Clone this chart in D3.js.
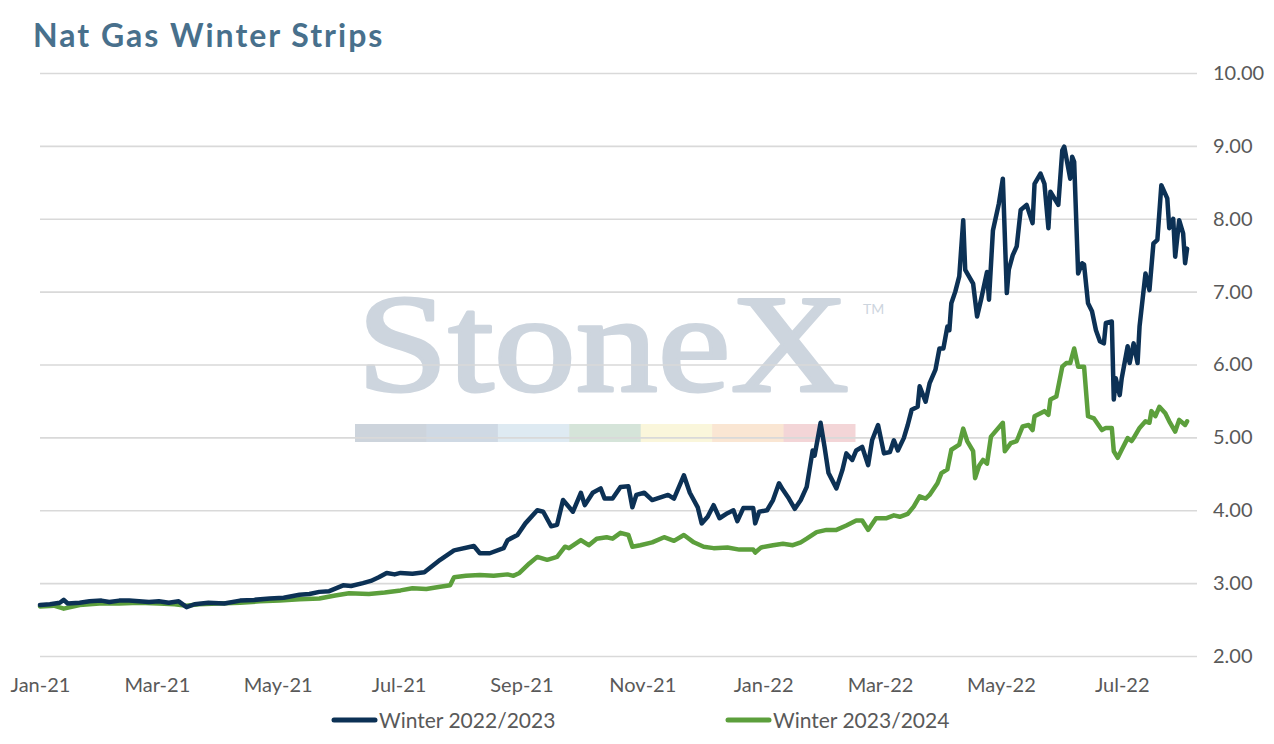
<!DOCTYPE html>
<html>
<head>
<meta charset="utf-8">
<script src="https://cdn.jsdelivr.net/npm/d3@7"></script>
<style>
  body { margin: 0; background: #fff; }
  svg { display: block; font-family: Lato, "Open Sans", sans-serif; }
</style>
</head>
<body>
<div id="chart"></div>
<script>
// Winter 2022/2023 strip
const navyDates = [
  "2021-01-01","2021-01-06","2021-01-11","2021-01-13","2021-01-15","2021-01-21","2021-01-26","2021-02-01",
  "2021-02-05","2021-02-10","2021-02-15","2021-02-20","2021-02-25","2021-03-02","2021-03-07","2021-03-12",
  "2021-03-16","2021-03-20","2021-03-27","2021-04-04","2021-04-12","2021-04-19","2021-04-27","2021-05-04",
  "2021-05-12","2021-05-17","2021-05-22","2021-05-27","2021-06-03","2021-06-07","2021-06-13","2021-06-17",
  "2021-06-21","2021-06-25","2021-06-29","2021-07-02","2021-07-08","2021-07-14","2021-07-22","2021-07-29",
  "2021-08-08","2021-08-11","2021-08-16","2021-08-23","2021-08-25","2021-08-30","2021-09-03","2021-09-09",
  "2021-09-12","2021-09-16","2021-09-19","2021-09-22","2021-09-27","2021-10-01","2021-10-03","2021-10-07",
  "2021-10-11","2021-10-13","2021-10-17","2021-10-21","2021-10-25","2021-10-27","2021-10-29","2021-11-02",
  "2021-11-06","2021-11-14","2021-11-17","2021-11-22","2021-11-25","2021-11-29","2021-12-01","2021-12-04",
  "2021-12-07","2021-12-10","2021-12-14","2021-12-17","2021-12-19","2021-12-22","2021-12-27","2021-12-28",
  "2021-12-30","2022-01-03","2022-01-06","2022-01-09","2022-01-11","2022-01-14","2022-01-17","2022-01-20",
  "2022-01-23","2022-01-26","2022-01-27","2022-01-30","2022-02-01","2022-02-03","2022-02-07","2022-02-10",
  "2022-02-12","2022-02-15","2022-02-17","2022-02-20","2022-02-23","2022-02-25","2022-02-28","2022-03-03",
  "2022-03-06","2022-03-08","2022-03-10","2022-03-13","2022-03-15","2022-03-17","2022-03-20","2022-03-21",
  "2022-03-24","2022-03-26","2022-03-29","2022-03-31","2022-04-02","2022-04-04","2022-04-05","2022-04-06",
  "2022-04-08","2022-04-10","2022-04-12","2022-04-13","2022-04-17","2022-04-19","2022-04-21","2022-04-24",
  "2022-04-25","2022-04-27","2022-04-30","2022-05-02","2022-05-04","2022-05-05","2022-05-07","2022-05-09",
  "2022-05-11","2022-05-14","2022-05-17","2022-05-18","2022-05-21","2022-05-23","2022-05-25","2022-05-26",
  "2022-05-30","2022-06-01","2022-06-02","2022-06-05","2022-06-06","2022-06-07","2022-06-09","2022-06-11",
  "2022-06-12","2022-06-14","2022-06-16","2022-06-18","2022-06-20","2022-06-22","2022-06-23","2022-06-26",
  "2022-06-27","2022-06-28","2022-06-30","2022-07-01","2022-07-04","2022-07-05","2022-07-07","2022-07-09",
  "2022-07-10","2022-07-13","2022-07-15","2022-07-17","2022-07-19","2022-07-21","2022-07-24","2022-07-25",
  "2022-07-27","2022-07-28","2022-07-30","2022-08-01","2022-08-02","2022-08-03"
];
const navyValues = [
  2.70,2.71,2.73,2.77,2.72,2.73,2.75,2.76,
  2.74,2.76,2.76,2.75,2.74,2.75,2.73,2.75,
  2.67,2.71,2.73,2.72,2.76,2.77,2.79,2.80,
  2.84,2.85,2.88,2.89,2.97,2.96,3.00,3.03,
  3.08,3.14,3.12,3.14,3.13,3.15,3.32,3.45,
  3.51,3.41,3.41,3.48,3.59,3.66,3.82,4.00,
  3.98,3.78,3.80,4.14,3.98,4.24,4.07,4.24,
  4.30,4.16,4.16,4.32,4.33,4.04,4.21,4.24,
  4.14,4.21,4.16,4.48,4.24,4.04,3.82,3.91,
  4.07,3.89,3.96,4.00,3.85,4.03,4.03,3.82,
  3.98,4.00,4.14,4.37,4.28,4.16,4.02,4.14,
  4.32,4.82,4.75,5.20,4.87,4.51,4.30,4.55,
  4.78,4.69,4.82,4.87,4.62,4.96,5.17,4.78,
  4.80,4.96,4.82,4.99,5.17,5.38,5.42,5.70,
  5.49,5.74,5.93,6.22,6.22,6.52,6.47,6.84,
  7.00,7.21,7.98,7.30,7.11,6.66,6.89,7.27,
  6.89,7.84,8.21,8.55,6.98,7.30,7.50,7.62,
  8.12,8.19,7.94,8.48,8.62,8.48,7.87,8.37,
  8.19,8.94,8.99,8.55,8.85,8.78,7.25,7.39,
  7.37,6.84,6.73,6.47,6.32,6.29,6.57,6.59,
  5.52,5.81,5.58,5.81,6.25,6.02,6.29,6.02,
  6.52,7.25,7.02,7.66,7.71,8.46,8.28,7.87,
  8.00,7.48,7.98,7.80,7.39,7.59
];

// Winter 2023/2024 strip
const greenDates = [
  "2021-01-01","2021-01-08","2021-01-13","2021-01-21","2021-01-31","2021-02-10","2021-02-20","2021-03-02",
  "2021-03-10","2021-03-16","2021-03-22","2021-04-01","2021-04-12","2021-04-22","2021-05-02","2021-05-12",
  "2021-05-22","2021-05-30","2021-06-06","2021-06-16","2021-06-24","2021-07-02","2021-07-08","2021-07-15",
  "2021-07-22","2021-07-27","2021-07-29","2021-08-04","2021-08-11","2021-08-18","2021-08-25","2021-08-28",
  "2021-08-31","2021-09-05","2021-09-09","2021-09-14","2021-09-19","2021-09-23","2021-09-25","2021-10-01",
  "2021-10-05","2021-10-09","2021-10-14","2021-10-17","2021-10-21","2021-10-25","2021-10-27","2021-10-31",
  "2021-11-06","2021-11-12","2021-11-17","2021-11-22","2021-11-27","2021-12-02","2021-12-07","2021-12-14",
  "2021-12-20","2021-12-27","2021-12-28","2021-12-31","2022-01-06","2022-01-11","2022-01-16","2022-01-20",
  "2022-01-23","2022-01-28","2022-02-02","2022-02-07","2022-02-12","2022-02-17","2022-02-20","2022-02-23",
  "2022-02-27","2022-03-04","2022-03-08","2022-03-11","2022-03-15","2022-03-18","2022-03-21","2022-03-24",
  "2022-03-26","2022-03-30","2022-04-01","2022-04-04","2022-04-06","2022-04-10","2022-04-12","2022-04-14",
  "2022-04-17","2022-04-18","2022-04-20","2022-04-22","2022-04-24","2022-04-26","2022-05-02","2022-05-03",
  "2022-05-06","2022-05-09","2022-05-12","2022-05-15","2022-05-17","2022-05-18","2022-05-23","2022-05-25",
  "2022-05-26","2022-05-29","2022-06-01","2022-06-03","2022-06-05","2022-06-07","2022-06-09","2022-06-12",
  "2022-06-14","2022-06-17","2022-06-21","2022-06-23","2022-06-26","2022-06-27","2022-06-29","2022-07-01",
  "2022-07-04","2022-07-06","2022-07-07","2022-07-10","2022-07-13","2022-07-15","2022-07-16","2022-07-18",
  "2022-07-20","2022-07-23","2022-07-25","2022-07-28","2022-07-30","2022-08-02","2022-08-03"
];
const greenValues = [
  2.68,2.69,2.65,2.70,2.72,2.72,2.73,2.72,
  2.71,2.69,2.71,2.72,2.73,2.75,2.76,2.78,
  2.79,2.83,2.86,2.85,2.87,2.90,2.93,2.92,
  2.95,2.97,3.08,3.10,3.11,3.10,3.12,3.10,
  3.14,3.27,3.36,3.32,3.36,3.50,3.48,3.59,
  3.52,3.61,3.63,3.61,3.69,3.66,3.50,3.52,
  3.56,3.63,3.58,3.66,3.56,3.50,3.48,3.49,
  3.46,3.46,3.42,3.49,3.52,3.54,3.52,3.56,
  3.61,3.70,3.73,3.73,3.79,3.86,3.86,3.73,
  3.89,3.89,3.93,3.91,3.95,4.05,4.19,4.16,
  4.21,4.37,4.51,4.56,4.83,4.90,5.12,4.95,
  4.81,4.44,4.61,4.69,4.64,5.01,5.20,4.81,
  4.92,4.95,5.15,5.17,5.10,5.29,5.36,5.31,
  5.52,5.56,5.97,6.02,6.02,6.22,5.97,5.97,
  5.29,5.26,5.10,5.13,5.13,4.81,4.72,4.83,
  4.99,4.95,4.99,5.13,5.22,5.20,5.36,5.29,
  5.42,5.33,5.22,5.08,5.24,5.17,5.22
];

const seriesNames = ["Winter 2022/2023", "Winter 2023/2024"];
const seriesColors = ["#0c3155", "#5c9f3c"];
const yTicks = [2, 3, 4, 5, 6, 7, 8, 9, 10];
const xTickDates = ["2021-01-01","2021-03-01","2021-05-01","2021-07-01","2021-09-01","2021-11-01",
                    "2022-01-01","2022-03-01","2022-05-01","2022-07-01"];
const xDomain = ["2021-01-01", "2022-08-08"];
const watermarkColors = ["#cdd4dc","#cfd9e4","#deeaf2","#d5e4d9","#faf6db","#fae6d3","#f3d5d7"];

const parse = d3.timeParse("%Y-%m-%d");

function build() {
  const width = 1274, height = 744;
  const plot = { left: 40, right: 1197, top: 73, bottom: 656 };

  const svg = d3.select("#chart").append("svg")
    .attr("width", width).attr("height", height);

  const x = d3.scaleTime()
    .domain(xDomain.map(parse))
    .range([plot.left, plot.right]);

  const y = d3.scaleLinear()
    .domain([2, 10])
    .range([plot.bottom, plot.top]);

  // title
  svg.append("text")
    .attr("x", 33).attr("y", 47)
    .attr("font-size", 32).attr("font-weight", 700)
    .attr("letter-spacing", 2)
    .attr("fill", "#48708c")
    .text("Nat Gas Winter Strips");

  // watermark behind everything
  const wm = svg.append("g").attr("class", "watermark");
  wm.append("text")
    .attr("x", 357).attr("y", 391)
    .attr("font-family", "'Liberation Serif', 'DejaVu Serif', serif")
    .attr("font-size", 140)
    .attr("textLength", 492).attr("lengthAdjust", "spacingAndGlyphs")
    .attr("fill", "#cdd5de")
    .attr("stroke", "#cdd5de").attr("stroke-width", 3)
    .attr("stroke-linejoin", "round")
    .text("StoneX");
  wm.append("text")
    .attr("x", 863).attr("y", 314)
    .attr("font-size", 14)
    .attr("fill", "#cdd5de")
    .text("TM");
  const band = d3.scaleBand().domain(d3.range(watermarkColors.length)).range([355, 855]);
  wm.selectAll("rect")
    .data(watermarkColors)
    .join("rect")
    .attr("x", (d, i) => band(i)).attr("y", 424)
    .attr("width", band.bandwidth() + 0.5).attr("height", 18)
    .attr("fill", (d) => d);

  // gridlines + right axis
  const yAxis = svg.append("g")
    .attr("transform", `translate(${plot.right},0)`)
    .call(d3.axisRight(y).tickValues(yTicks)
      .tickSize(-(plot.right - plot.left))
      .tickPadding(16)
      .tickFormat(d3.format(".2f")));
  yAxis.select(".domain").remove();
  yAxis.selectAll(".tick line").attr("stroke", "#d9d9d9").attr("stroke-width", 1.6);
  yAxis.selectAll(".tick text")
    .attr("font-size", 20).attr("fill", "#595959")
    .attr("font-family", "Lato, sans-serif");

  // bottom axis labels
  const xAxis = svg.append("g")
    .attr("transform", `translate(0,${plot.bottom})`)
    .call(d3.axisBottom(x).tickValues(xTickDates.map(parse))
      .tickSize(0).tickPadding(22)
      .tickFormat(d3.timeFormat("%b-%y")));
  xAxis.select(".domain").remove();
  xAxis.selectAll(".tick text")
    .attr("font-size", 20).attr("fill", "#595959")
    .attr("font-family", "Lato, sans-serif");

  // lines
  const series = [
    { name: seriesNames[0], color: seriesColors[0],
      points: navyDates.map((d, i) => ({ date: parse(d), value: navyValues[i] })) },
    { name: seriesNames[1], color: seriesColors[1],
      points: greenDates.map((d, i) => ({ date: parse(d), value: greenValues[i] })) }
  ];

  const line = d3.line()
    .x((d) => x(d.date))
    .y((d) => y(d.value));

  svg.append("g")
    .selectAll("path")
    .data(series.slice().reverse())
    .join("path")
    .attr("d", (d) => line(d.points))
    .attr("fill", "none")
    .attr("stroke", (d) => d.color)
    .attr("stroke-width", 4.5)
    .attr("stroke-linejoin", "round")
    .attr("stroke-linecap", "round");

  // legend
  const legendX = [332, 726];
  const legend = svg.append("g")
    .selectAll("g")
    .data(series)
    .join("g")
    .attr("transform", (d, i) => `translate(${legendX[i]},720)`);
  legend.append("line")
    .attr("x1", 2).attr("x2", 43)
    .attr("stroke", (d) => d.color)
    .attr("stroke-width", 5)
    .attr("stroke-linecap", "round");
  legend.append("text")
    .attr("x", 47).attr("y", 8)
    .attr("font-size", 21).attr("fill", "#595959")
    .text((d) => d.name);
}

document.addEventListener("DOMContentLoaded", build);
</script>
</body>
</html>
